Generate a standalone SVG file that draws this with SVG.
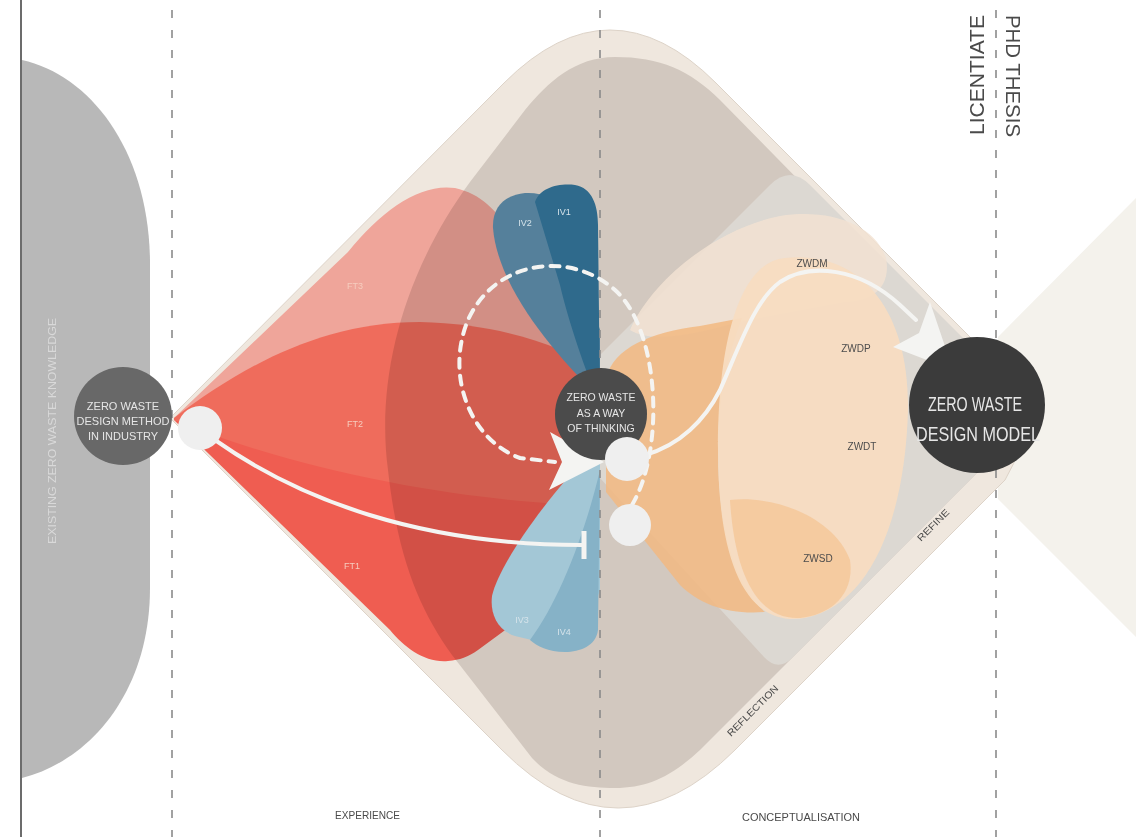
<svg xmlns="http://www.w3.org/2000/svg" width="1136" height="837" viewBox="0 0 1136 837">
<style>
.dash{stroke:#8a8a8a;stroke-width:1.6;stroke-dasharray:8 12;fill:none}
.lbl{font-family:"Liberation Sans",Arial,sans-serif;fill:#4a4a4a}
.wt{font-family:"Liberation Sans",Arial,sans-serif;fill:#e6e6e6;text-anchor:middle}
.ft{font-family:"Liberation Sans",Arial,sans-serif;fill:#f6cdbf;font-size:9px;text-anchor:middle}
.iv{font-family:"Liberation Sans",Arial,sans-serif;fill:#d5e3ea;font-size:9px;text-anchor:middle}
.zw{font-family:"Liberation Sans",Arial,sans-serif;fill:#4d4d4d;font-size:10px;text-anchor:middle}
.wline{fill:none;stroke:#f4f4f2;stroke-width:4;stroke-linecap:round}
</style>
<rect width="1136" height="837" fill="#ffffff"/>
<g id="background">
  <polygon points="998,337 1136,198 1136,637 998,499" fill="#f4f2ec"/>
  <path id="existing" d="M22,60 C90,75 149,150 150,262 L150,588 C150,690 92,760 22,778 Z" fill="#b8b8b8"/>
  <line x1="21" y1="0" x2="21" y2="837" stroke="#6c6c6c" stroke-width="2"/>
  <text class="lbl" transform="translate(56,544) rotate(-90)" font-size="11" style="fill:#d9d9d9" textLength="226" lengthAdjust="spacingAndGlyphs">EXISTING ZERO WASTE KNOWLEDGE</text>
  <path id="outer" d="M170,418 L504,83 Q610,-23 716,83 L1000,367 Q1045,412 1005,480 L735,750 Q618,866 502,750 Z" fill="#efe7de" stroke="#ddd3c8" stroke-width="1"/>
  <path id="inner" d="M615,57 C575,57 548,82 525,110 L470,182 C402,275 376,380 388,470 C398,560 420,610 452,655 L532,758 C556,784 586,788 615,788 C648,788 672,776 700,750 L985,465 L990,375 L720,100 C690,70 660,57 615,57 Z" fill="#d2c8bf"/>
  <path id="refine-zone" d="M600,355 L770,185 Q790,165 810,185 L985,360 L985,465 L792,658 Q778,672 764,657 L600,478 Z" fill="#dcd8d2"/>
</g>
<g id="red" style="mix-blend-mode:multiply">
  <path id="FT3" d="M174,418 L348,252 C382,210 420,183 455,188 C482,194 498,212 512,235 L600,365 L600,430 Z" fill="#ffb6b1"/>
  <path id="FT1" d="M174,420 L600,470 L600,560 L478,650 C468,657 460,660 448,661 C425,663 405,648 390,630 Z" fill="#ff665d"/>
  <path id="FT2" d="M174,418 C240,368 320,322 420,322 C500,324 560,345 600,370 L600,505 C500,505 320,480 174,420 Z" fill="#ff7769"/>
</g>
<g id="labels-ft">
  <text class="ft" x="355" y="289">FT3</text>
  <text class="ft" x="355" y="427">FT2</text>
  <text class="ft" x="352" y="569">FT1</text>
</g>
<g id="blue">
  <path id="IV2" d="M493,228 C492,206 506,195 525,193 C542,192 556,198 562,212 L600,330 L600,398 C560,360 498,290 493,228 Z" fill="#55809b"/>
  <path id="IV1" d="M535,202 C540,188 558,183 575,185 C592,188 598,205 598,225 L600,405 C585,370 568,320 560,285 Z" fill="#2f6a8c"/>
  <path id="IV3" d="M600,445 L600,590 C590,622 568,642 540,642 L515,636 C496,630 490,612 492,596 C500,560 560,480 600,445 Z" fill="#a3c7d6"/>
  <path id="IV4" d="M600,470 L598,630 C596,646 580,652 565,652 C548,652 537,646 530,640 C560,600 586,530 600,470 Z" fill="#86b2c7"/>
  <text class="iv" x="525" y="226">IV2</text>
  <text class="iv" x="564" y="215">IV1</text>
  <text class="iv" x="522" y="623">IV3</text>
  <text class="iv" x="564" y="635">IV4</text>
</g>
<g id="orange">
  <path d="M630,330 C655,275 720,228 780,216 C830,208 875,225 886,258 C892,290 868,302 846,302 L740,322 C700,332 655,345 630,330 Z" fill="#f2e2d2" opacity="0.85"/>
  <path d="M606,378 C614,348 650,332 700,326 L742,318 C726,360 718,400 718,450 C718,530 735,585 765,612 C730,615 700,605 680,585 L606,492 Z" fill="#f2b881" opacity="0.85"/>
  <path d="M785,258 C860,250 910,310 908,410 C905,520 870,605 805,618 C745,628 718,560 718,450 C718,340 740,262 785,258 Z" fill="#f7dcc1" opacity="0.95"/>
  <path d="M730,500 C780,495 835,520 850,560 C855,595 830,615 800,618 C760,620 735,580 730,500 Z" fill="#f4c28e" opacity="0.65"/>
  <text class="zw" x="812" y="267">ZWDM</text>
  <text class="zw" x="856" y="352">ZWDP</text>
  <text class="zw" x="862" y="450">ZWDT</text>
  <text class="zw" x="818" y="562">ZWSD</text>
</g>
<g id="dividers">
  <line class="dash" x1="172" y1="10" x2="172" y2="837"/>
  <line class="dash" x1="600" y1="10" x2="600" y2="837"/>
  <line class="dash" x1="996" y1="10" x2="996" y2="837"/>
</g>
<g id="connectors">
  <path class="wline" d="M632,505 C665,450 660,330 615,290 C570,250 495,260 468,320 C445,375 470,440 520,458 L555,462" stroke-dasharray="9 8" stroke-width="5" stroke-linecap="butt"/>
  <polygon points="550,432 604,462 549,490 562,462" fill="#f4f4f2"/>
  <path class="wline" d="M215,440 C300,500 420,545 582,545"/>
  <line x1="584" y1="531" x2="584" y2="559" stroke="#f4f4f2" stroke-width="5"/>
  <path class="wline" d="M645,455 C680,445 705,420 720,390 C740,345 755,300 780,282 C810,262 860,268 900,305 L916,320" stroke-width="5"/>
  <polygon points="930,302 953,370 893,347 919,333" fill="#f4f4f2"/>
</g>
<g id="node-industry">
  <circle cx="123" cy="416" r="49" fill="#686868"/>
  <text class="wt" font-size="11" x="123" y="410">ZERO WASTE</text>
  <text class="wt" font-size="11" x="123" y="425">DESIGN METHOD</text>
  <text class="wt" font-size="11" x="123" y="440">IN INDUSTRY</text>
  <circle cx="200" cy="428" r="22" fill="#efefef"/>
</g>
<g id="node-thinking">
  <circle cx="601" cy="414" r="46" fill="#4b4b4b"/>
  <text class="wt" font-size="10.5" x="601" y="401">ZERO WASTE</text>
  <text class="wt" font-size="10.5" x="601" y="417">AS A WAY</text>
  <text class="wt" font-size="10.5" x="601" y="432">OF THINKING</text>
  <circle cx="627" cy="459" r="22" fill="#efefef"/>
  <circle cx="630" cy="525" r="21" fill="#efefef"/>
</g>
<g id="node-model">
  <circle cx="977" cy="405" r="68" fill="#3b3b3b"/>
  <text class="wt" font-size="21" x="975" y="411" textLength="94" lengthAdjust="spacingAndGlyphs">ZERO WASTE</text>
  <text class="wt" font-size="21" x="978" y="441" textLength="124" lengthAdjust="spacingAndGlyphs">DESIGN MODEL</text>
</g>
<g id="phase-labels">
  <text class="lbl" font-size="10.5" x="335" y="819" textLength="65" lengthAdjust="spacingAndGlyphs">EXPERIENCE</text>
  <text class="lbl" font-size="10.5" x="742" y="821" textLength="118" lengthAdjust="spacingAndGlyphs">CONCEPTUALISATION</text>
  <text class="lbl" font-size="9.5" transform="translate(731,737) rotate(-45)" textLength="68" lengthAdjust="spacingAndGlyphs">REFLECTION</text>
  <text class="lbl" font-size="9.5" transform="translate(921,542) rotate(-45)" textLength="41" lengthAdjust="spacingAndGlyphs">REFINE</text>
  <text class="lbl" font-size="21" fill="#555" transform="translate(984,135) rotate(-90)" textLength="120" lengthAdjust="spacingAndGlyphs">LICENTIATE</text>
  <text class="lbl" font-size="21" fill="#555" transform="translate(1006,15) rotate(90)" textLength="122" lengthAdjust="spacingAndGlyphs">PHD THESIS</text>
</g>
</svg>
